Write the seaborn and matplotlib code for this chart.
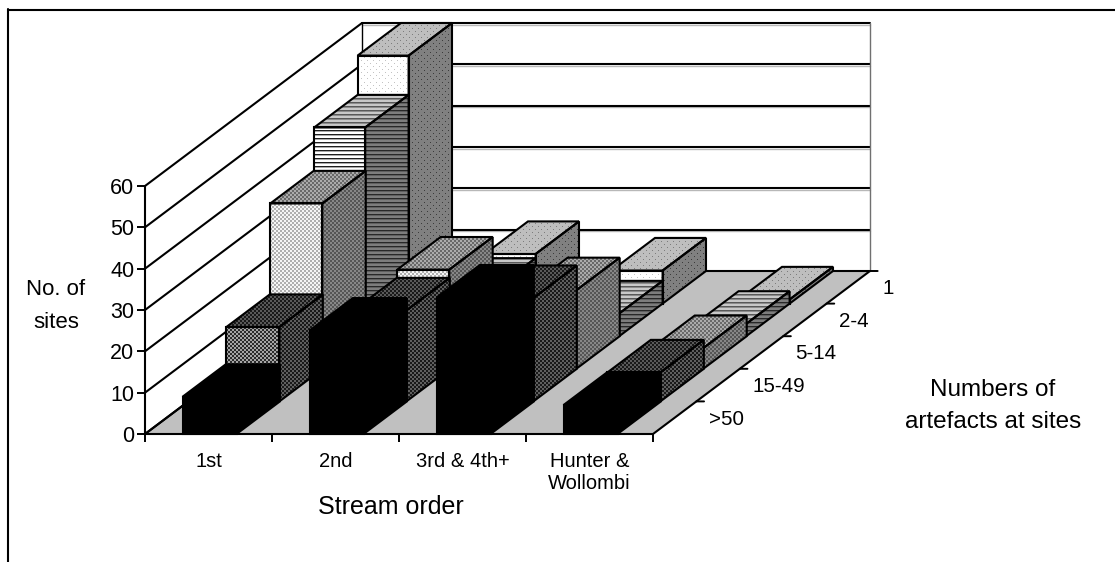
import numpy as np
import pandas as pd
import matplotlib
matplotlib.use("Agg")
import matplotlib.pyplot as plt
from matplotlib.patches import Polygon, Rectangle
import seaborn as sns

# ---- data ----
stream_order = ["1st", "2nd", "3rd & 4th+", "Hunter &\nWollombi"]
artefact_classes = [">50", "15-49", "5-14", "2-4", "1"]   # front row to back row
sites_gt50 = [9, 25, 33, 7]
sites_15_49 = [18, 22, 25, 7]
sites_5_14 = [40, 24, 19, 5]
sites_2_4 = [50.5, 11, 5.5, 3]
sites_1 = [60, 12, 8, 1]
y_ticks = [0, 10, 20, 30, 40, 50, 60]

series_values = [sites_gt50, sites_15_49, sites_5_14, sites_2_4, sites_1]
frame = pd.DataFrame({"stream": stream_order * 5,
                      "klass": np.repeat(artefact_classes, 4),
                      "sites": np.concatenate(series_values)})

# ---- layout (pixels) ----
W, H = 1115, 562
X0, Y0, PW, PH = 145, 434, 508, 248     # front plane of the 3-D box
STEP_X, STEP_Y = 43.4, 32.6             # depth of one row
BAR_PX = [54, 53, 52, 51, 51]
BAR_NUDGE = 1.0
DX, DY = STEP_X / (PW / 4), STEP_Y / (PH / 60)
FONT = "Liberation Sans"


def tile_dots(bg, fg):
    t = np.full((6, 6), bg, float)
    t[1, 1] = fg
    t[4, 4] = fg
    return t


def tile_lines(a, b, c):
    return np.array([[a], [a], [b], [c]], float) * np.ones((4, 4))


def tile_check(a, b):
    return np.array([[a, a, b, b], [a, a, b, b], [b, b, a, a], [b, b, a, a]], float)


# front, top, side texture per row
TEXTURES = [
    (tile_check(0, 0), tile_check(0, 0), tile_check(0, 0)),
    (tile_check(45, 165), tile_check(25, 90), tile_check(25, 95)),
    (tile_check(245, 175), tile_check(170, 105), tile_check(135, 85)),
    (tile_lines(255, 30, 170), tile_lines(200, 90, 140), tile_lines(125, 40, 95)),
    (tile_dots(255, 195), tile_dots(190, 125), tile_dots(128, 60)),
]


def page_of(tile):
    rows = np.tile(tile, (H // tile.shape[0] + 1, W // tile.shape[1] + 1))[:H, :W]
    return rows / 255


def paint(ax, patch, tile):
    """Fill a patch with a pixel pattern aligned on the page."""
    img = ax.imshow(page_of(tile), cmap="gray", vmin=0, vmax=1, origin="upper",
                    extent=(0, 1, 0, 1), transform=ax.figure.transFigure,
                    interpolation="nearest", aspect="auto", zorder=patch.get_zorder())
    img.set_clip_box(ax.figure.bbox)
    img.set_clip_path(patch)


sns.set_theme(style="white", rc={"font.family": [FONT, "DejaVu Sans"],
                                 "axes.facecolor": "none", "savefig.facecolor": "white"})
fig = plt.figure(figsize=(W / 100, H / 100), dpi=100, facecolor="white")


def row_axes(k, zorder, nudge=0.0):
    return fig.add_axes([(X0 + nudge + STEP_X * k) / W, (H - Y0 + STEP_Y * k) / H, PW / W, PH / H],
                        zorder=zorder, facecolor="none")


# ---- box: floor, walls, grid, axes ----
base = row_axes(0, 0)
base.set_xlim(-0.5, 3.5)
base.set_ylim(0, 60)
depth_x, depth_y = DX * 5, DY * 5
base.add_patch(Polygon([(-0.5, 0), (3.5, 0), (3.5 + depth_x, depth_y), (-0.5 + depth_x, depth_y)],
                       closed=True, fc="#c0c0c0", ec="black", lw=1.5, clip_on=False))
for v in y_ticks:
    base.plot([-0.5, -0.5 + depth_x], [v, v + depth_y], color="black", lw=1.5, clip_on=False)
    if v:
        base.plot([-0.5 + depth_x, 3.5 + depth_x], [v + depth_y - 0.4] * 2,
                  color="#b8b8b8", lw=1.0, clip_on=False)
        base.plot([-0.5 + depth_x, 3.5 + depth_x], [v + depth_y] * 2, color="black", lw=1.5, clip_on=False)
base.plot([3.5 + depth_x] * 2, [depth_y, 60 + depth_y], color="#707070", lw=1.0, clip_on=False)
base.plot([-0.5 + depth_x] * 2, [depth_y, 60 + depth_y], color="black", lw=1.0, clip_on=False)
base.plot([-0.5, -0.5], [0, 60], color="black", lw=1.5, clip_on=False)

sns.despine(ax=base, left=True, bottom=True)
base.set_yticks(y_ticks)
base.set_yticklabels([str(v) for v in y_ticks], fontsize=15.5, color="black")
base.set_xticks(np.arange(-0.5, 4, 1))
base.set_xticklabels([])
base.set_xticks(range(4), stream_order, minor=True, fontsize=14.5, color="black", linespacing=1.2, va="top")
base.tick_params(axis="both", which="major", length=5.8, width=1.4, color="black", left=True, bottom=True, pad=2)
base.tick_params(axis="x", which="minor", length=0, pad=13)
base.set_xlabel("")
base.set_ylabel("")

# row ticks and labels along the floor's right edge
for k in range(1, 6):
    base.annotate("", xy=(3.5 + DX * k, DY * k), xytext=(5.5, 0), textcoords="offset points",
                  arrowprops=dict(arrowstyle="-", color="black", lw=1.4, shrinkA=0, shrinkB=0),
                  annotation_clip=False)
for k, label in enumerate(artefact_classes):
    base.annotate(label, xy=(3.5 + DX * (k + 0.5), DY * (k + 0.5)), xytext=(24.5, -1),
                  textcoords="offset points", ha="left", va="center", fontsize=14.8,
                  color="black", annotation_clip=False)

# ---- bars, back row first, through seaborn ----
for k in range(4, -1, -1):
    ax = row_axes(k, 10 - k, BAR_NUDGE)
    label = artefact_classes[k]
    sub = frame[frame["klass"] == label]
    sns.barplot(data=sub, x="stream", y="sites", order=stream_order, color="white",
                width=BAR_PX[k] / (PW / 4), saturation=1, errorbar=None, ax=ax, linewidth=0)
    ax.set_xlim(-0.5, 3.5)
    ax.set_ylim(0, 60)
    ax.set_axis_off()
    front_tile, top_tile, side_tile = TEXTURES[k]
    edge = "black"
    for bar in list(ax.patches):
        x0, x1 = bar.get_x(), bar.get_x() + bar.get_width()
        h = bar.get_height()
        side = Polygon([(x1, 0), (x1, h), (x1 + DX, h + DY), (x1 + DX, DY)], closed=True,
                       fc="none", ec="none", clip_on=False, zorder=3)
        top = Polygon([(x0, h), (x1, h), (x1 + DX, h + DY), (x0 + DX, h + DY)], closed=True,
                      fc="none", ec="none", clip_on=False, zorder=3)
        ax.add_patch(side)
        ax.add_patch(top)
        bar.set_zorder(3)
        paint(ax, side, side_tile)
        paint(ax, top, top_tile)
        paint(ax, bar, front_tile)
        for poly in (side, top):
            ax.add_patch(Polygon(poly.get_xy(), closed=True, fc="none", ec=edge, lw=1.5,
                                 clip_on=False, zorder=4, joinstyle="miter"))
        ax.add_patch(Rectangle((x0, 0), x1 - x0, h, fc="none", ec=edge, lw=1.5,
                               clip_on=False, zorder=4, joinstyle="miter"))
    ax.set_xlim(-0.5, 3.5)
    ax.set_ylim(0, 60)

# ---- frame and free labels ----
fig.add_artist(plt.Line2D([8 / W, 8 / W], [0, 1 - 9 / H], color="black", lw=1.5))
fig.add_artist(plt.Line2D([8 / W, 1], [1 - 10 / H, 1 - 10 / H], color="black", lw=1.5))
fig.text(56 / W, 1 - 306 / H, "No. of\nsites", ha="center", va="center", fontsize=16,
         linespacing=1.7, color="black")
fig.text(391 / W, 1 - 507 / H, "Stream order", ha="center", va="center", fontsize=18, color="black")
fig.text(993 / W, 1 - 406 / H, "Numbers of\nartefacts at sites", ha="center", va="center",
         fontsize=17.5, linespacing=1.58, color="black")

fig.savefig("out.png", dpi=100)
